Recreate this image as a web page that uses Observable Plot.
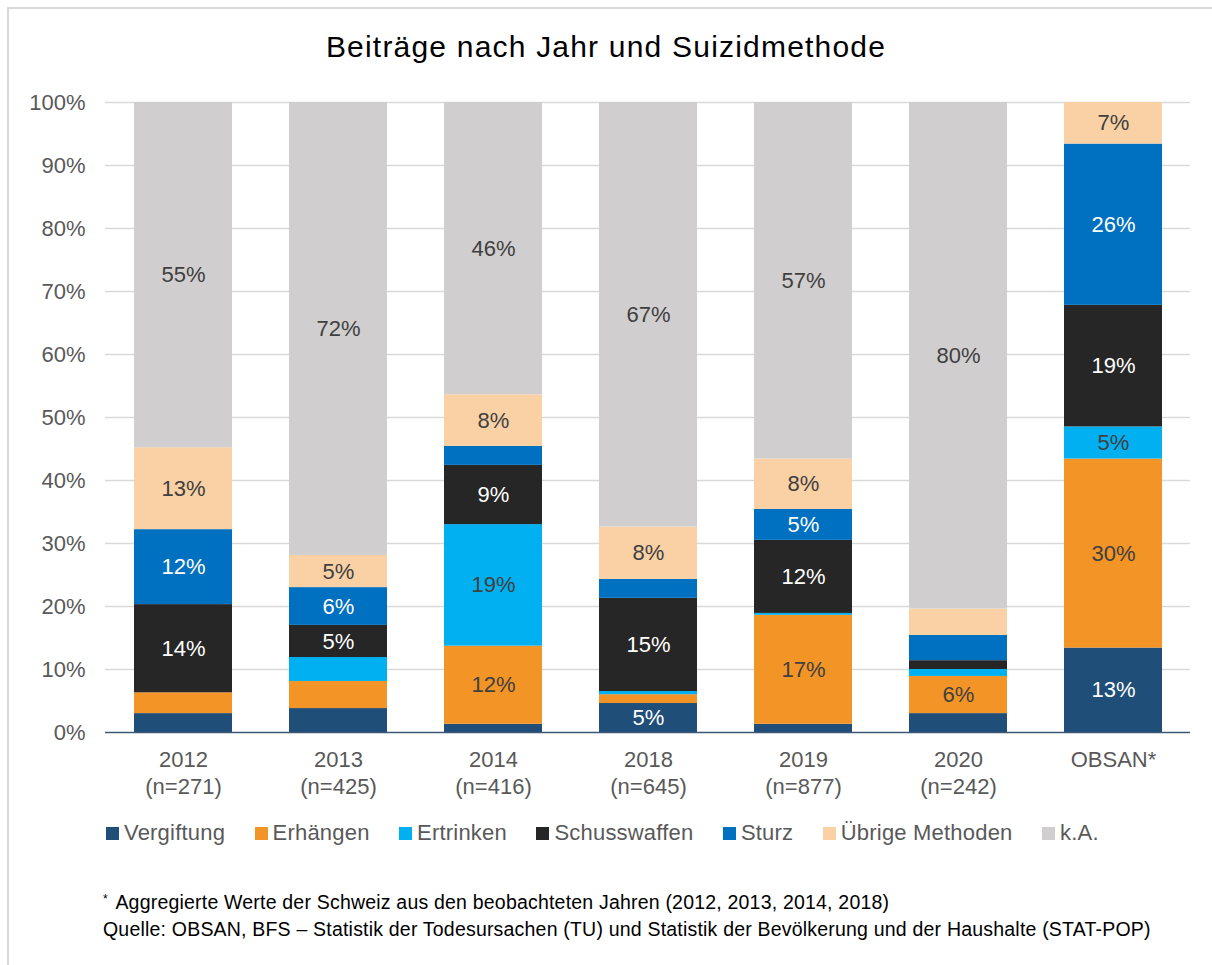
<!DOCTYPE html>
<html><head><meta charset="utf-8">
<script src="https://cdn.jsdelivr.net/npm/d3@7"></script>
<script src="https://cdn.jsdelivr.net/npm/@observablehq/plot@0.6"></script>
<style>
body{margin:0;background:#fff;font-family:"Liberation Sans",Arial,sans-serif}
#wrap{position:relative;width:1212px;height:965px;overflow:hidden;background:#fff}
#frame{position:absolute;left:7px;top:7px;width:1300px;height:1100px;border-left:2px solid #d9d9d9;border-top:2px solid #d9d9d9;box-sizing:border-box}
#title{position:absolute;left:0;width:1212px;top:29px;text-align:center;font-size:30px;color:#000;letter-spacing:1.2px;line-height:36px}
#chart{position:absolute;left:0;top:80px}
#legend{position:absolute;left:106px;top:820px;display:flex;gap:29.5px;font-size:22px;color:#595959;line-height:26px;letter-spacing:0.2px}
#legend .it{display:flex;align-items:center}
#legend .sw{display:inline-block;width:13px;height:13px;margin-right:5px}
#notes{position:absolute;left:103px;top:886px;font-size:19.5px;line-height:27px;color:#000;letter-spacing:0.2px}
#notes sup{font-size:12px;vertical-align:6px;margin-right:3px}
</style></head>
<body>
<div id="wrap">
<div id="frame"></div>
<div id="title">Beiträge nach Jahr und Suizidmethode</div>
<div id="chart"></div>
<div id="legend"></div>
<div id="notes"><div><sup>*</sup> Aggregierte Werte der Schweiz aus den beobachteten Jahren (2012, 2013, 2014, 2018)</div><div>Quelle: OBSAN, BFS – Statistik der Todesursachen (TU) und Statistik der Bevölkerung und der Haushalte (STAT-POP)</div></div>
</div>
<script>
const categories = ["2012", "2013", "2014", "2018", "2019", "2020", "OBSAN*"];
const sampleSizes = ["(n=271)", "(n=425)", "(n=416)", "(n=645)", "(n=877)", "(n=242)", ""];
const methods = ["Vergiftung", "Erhängen", "Ertrinken", "Schusswaffen", "Sturz", "Übrige Methoden", "k.A."];
const vergiftung   = [3.0, 3.8, 1.3, 4.6, 1.3, 3.0, 13.4];
const erhaengen    = [3.3, 4.3, 12.4, 1.4, 17.3, 5.9, 30.0];
const ertrinken    = [0.0, 3.8, 19.3, 0.5, 0.3, 1.1, 5.1];
const schusswaffen = [14.0, 5.1, 9.4, 14.8, 11.6, 1.4, 19.3];
const sturz        = [11.9, 6.0, 3.0, 3.0, 4.9, 4.0, 25.6];
const uebrige      = [13.0, 5.1, 8.2, 8.3, 8.0, 4.2, 6.6];
const keineAngabe  = [54.8, 71.9, 46.4, 67.4, 56.6, 80.4, 0.0];
const colors = ["#1f4e79", "#f29426", "#00b0f0", "#262626", "#0070c0", "#f9d1a5", "#d0cece"];
const labelColors = ["#ffffff", "#404040", "#404040", "#ffffff", "#ffffff", "#404040", "#404040"];
const yTicks = [0, 10, 20, 30, 40, 50, 60, 70, 80, 90, 100];

const series = [vergiftung, erhaengen, ertrinken, schusswaffen, sturz, uebrige, keineAngabe];
const data = [];
series.forEach((vals, m) => vals.forEach((v, i) => data.push({cat: categories[i], method: methods[m], mi: m, value: v})));

const font = "'Liberation Sans', Arial, sans-serif";
const chart = Plot.plot({
  width: 1212,
  height: 730,
  marginLeft: 105,
  marginRight: 22,
  marginTop: 22,
  marginBottom: 78,
  style: {fontFamily: font, fontSize: "22px", background: "transparent", overflow: "visible"},
  x: {domain: categories, paddingInner: 0.368, paddingOuter: 0.184, label: null},
  y: {domain: [0, 100], label: null},
  color: {type: "identity"},
  marks: [
    Plot.gridY(yTicks.filter(d => d > 0), {stroke: "#d9d9d9", strokeOpacity: 1, strokeWidth: 1.5}),
    Plot.barY(data, Plot.stackY({x: "cat", y: "value", z: "mi", order: null, fill: d => colors[d.mi], inset: 0})),
    Plot.ruleY([0], {stroke: "#3d5875", strokeWidth: 1.5}),
    Plot.text(data, Plot.stackY({x: "cat", y: "value", z: "mi", order: null,
      text: d => d.value >= 4.5 ? Math.round(d.value) + "%" : "",
      fill: d => labelColors[d.mi], fontSize: 22, letterSpacing: 0.3})),
    Plot.axisY(yTicks, {tickSize: 0, tickPadding: 20, tickFormat: d => d + "%", fill: "#595959", fontSize: 22, label: null, letterSpacing: 0.5}),
    Plot.axisX({tickSize: 0, tickPadding: 15, lineHeight: 1.23, fill: "#595959", fontSize: 22, label: null, letterSpacing: 0.5,
      tickFormat: (d) => { const i = categories.indexOf(d); return sampleSizes[i] ? d + "\n" + sampleSizes[i] : d; }})
  ]
});
document.getElementById("chart").appendChild(chart);

const legend = document.getElementById("legend");
methods.forEach((m, i) => {
  const it = document.createElement("div"); it.className = "it";
  const sw = document.createElement("span"); sw.className = "sw"; sw.style.background = colors[i];
  const tx = document.createElement("span"); tx.textContent = m;
  it.appendChild(sw); it.appendChild(tx); legend.appendChild(it);
});
</script>
</body></html>
